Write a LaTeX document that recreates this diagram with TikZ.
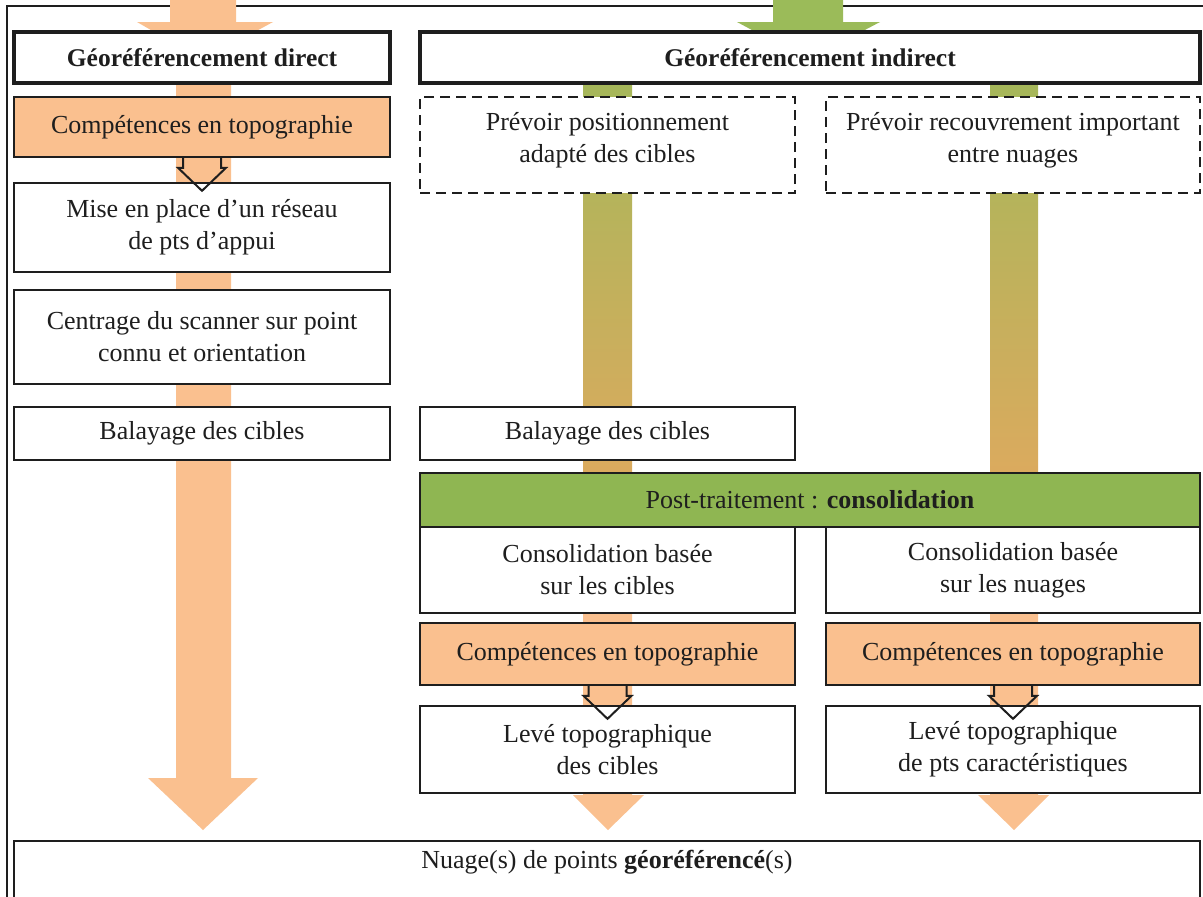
\documentclass[tikz,border=0pt]{standalone}
\usepackage{fontspec}
\setmainfont{Liberation Serif}
\usetikzlibrary{calc}
\definecolor{peach}{HTML}{FAC08F}
\definecolor{postgreen}{HTML}{8FB652}
\definecolor{arrgreen}{HTML}{9BBB59}
\definecolor{gradtop}{HTML}{A4B85A}
\definecolor{gradbot}{HTML}{DCAA5E}
\definecolor{ink}{HTML}{1E1E1E}
\begin{document}
\begin{tikzpicture}[x=1pt,y=-1pt,
  every node/.style={font=\fontsize{26}{32}\selectfont, text=ink, align=center, inner sep=0pt},
  box/.style={draw=ink, line width=1.6pt, fill=white, rectangle},
  headbox/.style={box, line width=3.5pt, font=\fontsize{25.5}{32}\selectfont\bfseries},
  compbox/.style={box, fill=peach},
  dashbox/.style={box, dash pattern=on 10pt off 6pt, line width=2.2pt},
  postbox/.style={box, fill=postgreen},
  hollow/.style={draw=ink, line width=2pt, line join=miter}
]
\useasboundingbox (0,0) rectangle (1203,897);
\clip (0,0) rectangle (1203,897);
\fill[white] (0,0) rectangle (1203,897);
% outer frame
\draw[line width=1.4pt, ink] (7,6) rectangle (1220,920);

% top arrows (entering the two header boxes)
\fill[peach] (170,0) -- (170,22) -- (137,22) -- (203,60) -- (273,22) -- (236,22) -- (236,0) -- cycle;
\fill[arrgreen] (773,0) -- (773,22) -- (737,22) -- (808,60) -- (880,22) -- (843,22) -- (843,0) -- cycle;

% left big arrow
\fill[peach] (176,70) -- (176,778) -- (148,778) -- (203,830) -- (258,778) -- (231,778) -- (231,70) -- cycle;

% middle column arrow
\shade[top color=gradtop, bottom color=gradbot] (583,70) rectangle (632,480);
\fill[peach] (583,480) -- (583,795) -- (573,795) -- (608,830) -- (644,795) -- (632,795) -- (632,480) -- cycle;

% right column arrow
\shade[top color=gradtop, bottom color=gradbot] (990,70) rectangle (1038,480);
\fill[peach] (990,480) -- (990,795) -- (978,795) -- (1014,830) -- (1049,795) -- (1038,795) -- (1038,480) -- cycle;

% left column boxes
\node (direct) [headbox, minimum width=376pt, minimum height=51pt] at (202,57.5) {Géoréférencement direct};
\node (comp1) [compbox, minimum width=376pt, minimum height=60pt] at (202,127) {Compétences en topographie};
\node (mise) [box, minimum width=376pt, minimum height=89pt] at (202,227.5) {Mise en place d’un réseau\\de pts d’appui};
\node (centrage) [box, minimum width=376pt, minimum height=94pt] at (202,337) {Centrage du scanner sur point\\connu et orientation};
\node (bal1) [box, minimum width=376pt, minimum height=53pt] at (202,433.5) {Balayage des cibles};

% right part boxes
\node (indirect) [headbox, minimum width=780pt, minimum height=51pt] at (810,57.5) {Géoréférencement indirect};
\node (dash1) [dashbox, minimum width=375pt, minimum height=96pt] at (607.5,145) {};
\node at (607.5,140) {Prévoir positionnement\\adapté des cibles};
\node (dash2) [dashbox, minimum width=374pt, minimum height=96pt] at (1013,145) {};
\node at (1013,140) {Prévoir recouvrement important\\entre nuages};
\node (bal2) [box, minimum width=375pt, minimum height=53pt] at (607.5,433.5) {Balayage des cibles};
\node (post) [postbox, minimum width=780pt, minimum height=54pt] at (810,500) {Post-traitement : \textbf{consolidation}};
\node (cons1) [box, minimum width=375pt, minimum height=86pt] at (607.5,570) {Consolidation basée\\sur les cibles};
\node (cons2) [box, minimum width=374pt, minimum height=86pt] at (1013,570) {Consolidation basée\\sur les nuages};
\node (comp2) [compbox, minimum width=375pt, minimum height=62pt] at (607.5,654) {Compétences en topographie};
\node (comp3) [compbox, minimum width=374pt, minimum height=62pt] at (1013,654) {Compétences en topographie};
\node (leve1) [box, minimum width=375pt, minimum height=87pt] at (607.5,749.5) {Levé topographique\\des cibles};
\node (leve2) [box, minimum width=374pt, minimum height=87pt] at (1013,749.5) {Levé topographique\\de pts caractéristiques};

% bottom box
\node (nuagebox) [box, minimum width=1186pt, minimum height=90pt, anchor=north] at (607,840) {};
\node (nuage) at (607,862) {Nuage(s) de points \textbf{géoréférencé}(s)};

% hollow arrows from the "Compétences" boxes
\foreach \n in {comp1,comp2,comp3}{
  \draw[hollow] ([xshift=-19pt]\n.south) -- ++(0,10) -- ++(-5,0) -- ++(24,23) -- ++(24,-23) -- ++(-5,0) -- ++(0,-10);
}
\end{tikzpicture}
\end{document}
